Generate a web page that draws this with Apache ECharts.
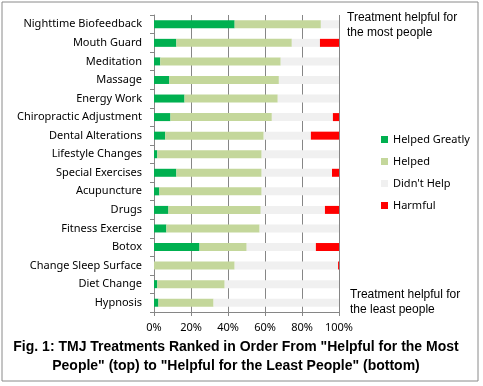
<!DOCTYPE html>
<html><head><meta charset="utf-8">
<script src="https://cdn.jsdelivr.net/npm/echarts@6/dist/echarts.min.js"></script>
<style>html,body{margin:0;padding:0;background:#fff}#c{width:483px;height:386px}</style>
</head><body><div id="c"></div>
<script>
const categories = ["Nighttime Biofeedback","Mouth Guard","Meditation","Massage","Energy Work","Chiropractic Adjustment","Dental Alterations","Lifestyle Changes","Special Exercises","Acupuncture","Drugs","Fitness Exercise","Botox","Change Sleep Surface","Diet Change","Hypnosis"];
const helpedGreatly = [43.6,12.1,3.4,8.3,16.5,8.9,6.1,1.8,12.1,2.9,7.8,6.7,24.6,0,1.8,2.4];
const helped = [46.6,62.4,65.1,59.2,50.4,54.8,53.2,56.4,46.1,55.3,49.9,50.4,25.5,43.6,36.4,29.8];
const harmful = [0,10.3,0,0,0,3.3,15.2,0,3.8,0,7.6,0,12.5,0.5,0,0];
const didntHelp = [9.8,15.2,31.5,32.5,33.1,33.0,25.5,41.8,38.0,41.8,34.7,42.9,37.4,55.9,61.8,67.8];
const xTicks = [0,20,40,60,80,100];

const chart = echarts.init(document.getElementById('c'));
const lab = {fontFamily:'Noto Sans', fontSize:11, color:'#000'};
function s(name, data, color){
  return {name, type:'bar', stack:'t', data, barWidth:8, itemStyle:{color}, emphasis:{disabled:true}};
}
chart.setOption({
  animation:false,
  graphic:[
    {type:'rect', shape:{x:2,y:2,width:476,height:379}, style:{fill:'none', stroke:'#8a8a8a', lineWidth:1}},
    {type:'text', left:347, top:10, style:{text:'Treatment helpful for\nthe most people', font:'12px Liberation Sans', fill:'#000', lineHeight:15}},
    {type:'text', left:350, top:287, style:{text:'Treatment helpful for\nthe least people', font:'12px Liberation Sans', fill:'#000', lineHeight:15}},
    {type:'text', x:236, y:338, style:{text:'Fig. 1: TMJ Treatments Ranked in Order From "Helpful for the Most\nPeople" (top) to "Helpful for the Least People" (bottom)', font:'bold 14px Liberation Sans', fill:'#000', lineHeight:19, textAlign:'center', align:'center'}}
  ],
  legend:{
    orient:'vertical', left:376, top:129, itemWidth:7, itemHeight:7, itemGap:11,
    icon:'rect', textStyle:Object.assign({}, lab, {fontSize:11}),
    data:['Helped Greatly','Helped',"Didn't Help",'Harmful']
  },
  grid:{left:154, right:144, top:15, bottom:74},
  xAxis:{
    type:'value', min:0, max:100, interval:20,
    axisLine:{show:true, lineStyle:{color:'#868686'}},
    axisTick:{show:true, length:4, lineStyle:{color:'#868686'}},
    splitLine:{show:true, lineStyle:{color:'#868686'}},
    axisLabel:Object.assign({}, lab, {formatter:v=>v+'%', margin:10})
  },
  yAxis:{
    type:'category', data:categories, inverse:true,
    axisLine:{show:true, lineStyle:{color:'#868686'}},
    axisTick:{show:true, length:4, lineStyle:{color:'#868686'}},
    axisLabel:Object.assign({}, lab, {margin:12})
  },
  series:[
    s('Helped Greatly', helpedGreatly, '#00b050'),
    s('Helped', helped, '#c4d79b'),
    s("Didn't Help", didntHelp, '#f0f0f0'),
    s('Harmful', harmful, '#ff0000')
  ]
});
</script></body></html>
